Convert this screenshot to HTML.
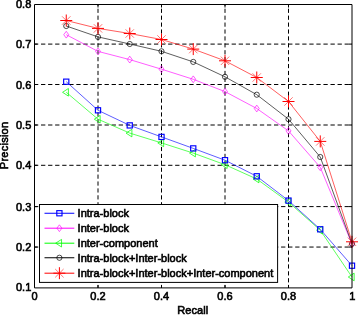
<!DOCTYPE html>
<html><head><meta charset="utf-8"><title>Precision-Recall</title>
<style>
html,body{margin:0;padding:0;background:#fff;}
svg{display:block}
text{font-family:"Liberation Sans",sans-serif;font-size:11px;fill:#000;stroke:#000;stroke-width:0.6px;}
</style></head><body>
<svg width="358" height="315" viewBox="0 0 358 315">
<defs><filter id="soft" filterUnits="userSpaceOnUse" x="0" y="0" width="358" height="315"><feGaussianBlur stdDeviation="0.3"/></filter></defs>
<rect width="358" height="315" fill="#fff"/>
<g filter="url(#soft)">
<g stroke="#000" stroke-width="1" stroke-dasharray="4.2 2.71" stroke-dashoffset="2.71" fill="none">
<path d="M98.00 4.5V287.9"/>
<path d="M161.50 4.5V287.9"/>
<path d="M225.00 4.5V287.9"/>
<path d="M288.50 4.5V287.9"/>
</g>
<g stroke="#000" stroke-width="1" stroke-dasharray="4.3 2.76" stroke-dashoffset="0.53" fill="none">
<path d="M34.5 44.10H352"/>
<path d="M34.5 84.50H352"/>
<path d="M34.5 125.00H352"/>
<path d="M34.5 165.30H352"/>
<path d="M34.5 206.60H352"/>
<path d="M34.5 247.05H352"/>
</g>
<polyline points="66.25,34.70 98.00,51.40 129.75,59.60 161.50,69.20 193.25,79.30 225.00,91.60 256.75,108.50 288.50,130.90 320.25,167.30 352.00,244.00" fill="none" stroke="#ff00ff" stroke-width="0.64"/>
<path d="M63.75 34.70L66.25 31.30L68.75 34.70L66.25 38.10Z" fill="none" stroke="#ff00ff" stroke-width="0.65"/>
<path d="M95.50 51.40L98.00 48.00L100.50 51.40L98.00 54.80Z" fill="none" stroke="#ff00ff" stroke-width="0.65"/>
<path d="M127.25 59.60L129.75 56.20L132.25 59.60L129.75 63.00Z" fill="none" stroke="#ff00ff" stroke-width="0.65"/>
<path d="M159.00 69.20L161.50 65.80L164.00 69.20L161.50 72.60Z" fill="none" stroke="#ff00ff" stroke-width="0.65"/>
<path d="M190.75 79.30L193.25 75.90L195.75 79.30L193.25 82.70Z" fill="none" stroke="#ff00ff" stroke-width="0.65"/>
<path d="M222.50 91.60L225.00 88.20L227.50 91.60L225.00 95.00Z" fill="none" stroke="#ff00ff" stroke-width="0.65"/>
<path d="M254.25 108.50L256.75 105.10L259.25 108.50L256.75 111.90Z" fill="none" stroke="#ff00ff" stroke-width="0.65"/>
<path d="M286.00 130.90L288.50 127.50L291.00 130.90L288.50 134.30Z" fill="none" stroke="#ff00ff" stroke-width="0.65"/>
<path d="M317.75 167.30L320.25 163.90L322.75 167.30L320.25 170.70Z" fill="none" stroke="#ff00ff" stroke-width="0.65"/>
<path d="M349.50 244.00L352.00 240.60L354.50 244.00L352.00 247.40Z" fill="none" stroke="#ff00ff" stroke-width="0.65"/>
<polyline points="66.25,92.30 98.00,119.20 129.75,133.10 161.50,142.90 193.25,153.10 225.00,164.70 256.75,179.00 288.50,202.10 320.25,230.20 352.00,277.00" fill="none" stroke="#00ff00" stroke-width="0.64"/>
<path d="M68.40 88.50L68.40 96.10L62.55 92.30Z" fill="none" stroke="#00ff00" stroke-width="0.75"/>
<path d="M100.15 115.40L100.15 123.00L94.30 119.20Z" fill="none" stroke="#00ff00" stroke-width="0.75"/>
<path d="M131.90 129.30L131.90 136.90L126.05 133.10Z" fill="none" stroke="#00ff00" stroke-width="0.75"/>
<path d="M163.65 139.10L163.65 146.70L157.80 142.90Z" fill="none" stroke="#00ff00" stroke-width="0.75"/>
<path d="M195.40 149.30L195.40 156.90L189.55 153.10Z" fill="none" stroke="#00ff00" stroke-width="0.75"/>
<path d="M227.15 160.90L227.15 168.50L221.30 164.70Z" fill="none" stroke="#00ff00" stroke-width="0.75"/>
<path d="M258.90 175.20L258.90 182.80L253.05 179.00Z" fill="none" stroke="#00ff00" stroke-width="0.75"/>
<path d="M290.65 198.30L290.65 205.90L284.80 202.10Z" fill="none" stroke="#00ff00" stroke-width="0.75"/>
<path d="M322.40 226.40L322.40 234.00L316.55 230.20Z" fill="none" stroke="#00ff00" stroke-width="0.75"/>
<path d="M354.15 273.20L354.15 280.80L348.30 277.00Z" fill="none" stroke="#00ff00" stroke-width="0.75"/>
<polyline points="66.25,81.70 98.00,110.30 129.75,125.40 161.50,136.90 193.25,148.40 225.00,160.20 256.75,176.30 288.50,200.60 320.25,229.30 352.00,265.70" fill="none" stroke="#0000ff" stroke-width="0.64"/>
<rect x="63.65" y="79.10" width="5.2" height="5.2" fill="none" stroke="#0000ff" stroke-width="1.15"/>
<rect x="95.40" y="107.70" width="5.2" height="5.2" fill="none" stroke="#0000ff" stroke-width="1.15"/>
<rect x="127.15" y="122.80" width="5.2" height="5.2" fill="none" stroke="#0000ff" stroke-width="1.15"/>
<rect x="158.90" y="134.30" width="5.2" height="5.2" fill="none" stroke="#0000ff" stroke-width="1.15"/>
<rect x="190.65" y="145.80" width="5.2" height="5.2" fill="none" stroke="#0000ff" stroke-width="1.15"/>
<rect x="222.40" y="157.60" width="5.2" height="5.2" fill="none" stroke="#0000ff" stroke-width="1.15"/>
<rect x="254.15" y="173.70" width="5.2" height="5.2" fill="none" stroke="#0000ff" stroke-width="1.15"/>
<rect x="285.90" y="198.00" width="5.2" height="5.2" fill="none" stroke="#0000ff" stroke-width="1.15"/>
<rect x="317.65" y="226.70" width="5.2" height="5.2" fill="none" stroke="#0000ff" stroke-width="1.15"/>
<rect x="349.40" y="263.10" width="5.2" height="5.2" fill="none" stroke="#0000ff" stroke-width="1.15"/>
<polyline points="66.25,26.00 98.00,36.90 129.75,44.00 161.50,51.30 193.25,61.90 225.00,76.80 256.75,94.70 288.50,119.20 320.25,157.00 352.00,243.80" fill="none" stroke="#000000" stroke-width="0.64"/>
<circle cx="66.25" cy="26.00" r="2.6" fill="none" stroke="#000000" stroke-width="0.7"/>
<circle cx="98.00" cy="36.90" r="2.6" fill="none" stroke="#000000" stroke-width="0.7"/>
<circle cx="129.75" cy="44.00" r="2.6" fill="none" stroke="#000000" stroke-width="0.7"/>
<circle cx="161.50" cy="51.30" r="2.6" fill="none" stroke="#000000" stroke-width="0.7"/>
<circle cx="193.25" cy="61.90" r="2.6" fill="none" stroke="#000000" stroke-width="0.7"/>
<circle cx="225.00" cy="76.80" r="2.6" fill="none" stroke="#000000" stroke-width="0.7"/>
<circle cx="256.75" cy="94.70" r="2.6" fill="none" stroke="#000000" stroke-width="0.7"/>
<circle cx="288.50" cy="119.20" r="2.6" fill="none" stroke="#000000" stroke-width="0.7"/>
<circle cx="320.25" cy="157.00" r="2.6" fill="none" stroke="#000000" stroke-width="0.7"/>
<circle cx="352.00" cy="243.80" r="2.6" fill="none" stroke="#000000" stroke-width="0.7"/>
<polyline points="66.25,20.50 98.00,28.40 129.75,33.50 161.50,39.50 193.25,49.10 225.00,60.80 256.75,77.50 288.50,101.50 320.25,141.40 352.00,241.80" fill="none" stroke="#ff0000" stroke-width="0.64"/>
<path d="M60.25 20.50H72.25M66.25 14.50V26.50" stroke="#ff0000" stroke-width="1" fill="none"/><path d="M62.05 16.30L70.45 24.70M62.05 24.70L70.45 16.30" stroke="#ff0000" stroke-width="0.55" fill="none"/>
<path d="M92.00 28.40H104.00M98.00 22.40V34.40" stroke="#ff0000" stroke-width="1" fill="none"/><path d="M93.80 24.20L102.20 32.60M93.80 32.60L102.20 24.20" stroke="#ff0000" stroke-width="0.55" fill="none"/>
<path d="M123.75 33.50H135.75M129.75 27.50V39.50" stroke="#ff0000" stroke-width="1" fill="none"/><path d="M125.55 29.30L133.95 37.70M125.55 37.70L133.95 29.30" stroke="#ff0000" stroke-width="0.55" fill="none"/>
<path d="M155.50 39.50H167.50M161.50 33.50V45.50" stroke="#ff0000" stroke-width="1" fill="none"/><path d="M157.30 35.30L165.70 43.70M157.30 43.70L165.70 35.30" stroke="#ff0000" stroke-width="0.55" fill="none"/>
<path d="M187.25 49.10H199.25M193.25 43.10V55.10" stroke="#ff0000" stroke-width="1" fill="none"/><path d="M189.05 44.90L197.45 53.30M189.05 53.30L197.45 44.90" stroke="#ff0000" stroke-width="0.55" fill="none"/>
<path d="M219.00 60.80H231.00M225.00 54.80V66.80" stroke="#ff0000" stroke-width="1" fill="none"/><path d="M220.80 56.60L229.20 65.00M220.80 65.00L229.20 56.60" stroke="#ff0000" stroke-width="0.55" fill="none"/>
<path d="M250.75 77.50H262.75M256.75 71.50V83.50" stroke="#ff0000" stroke-width="1" fill="none"/><path d="M252.55 73.30L260.95 81.70M252.55 81.70L260.95 73.30" stroke="#ff0000" stroke-width="0.55" fill="none"/>
<path d="M282.50 101.50H294.50M288.50 95.50V107.50" stroke="#ff0000" stroke-width="1" fill="none"/><path d="M284.30 97.30L292.70 105.70M284.30 105.70L292.70 97.30" stroke="#ff0000" stroke-width="0.55" fill="none"/>
<path d="M314.25 141.40H326.25M320.25 135.40V147.40" stroke="#ff0000" stroke-width="1" fill="none"/><path d="M316.05 137.20L324.45 145.60M316.05 145.60L324.45 137.20" stroke="#ff0000" stroke-width="0.55" fill="none"/>
<path d="M346.00 241.80H358.00M352.00 235.80V247.80" stroke="#ff0000" stroke-width="1" fill="none"/><path d="M347.80 237.60L356.20 246.00M347.80 246.00L356.20 237.60" stroke="#ff0000" stroke-width="0.55" fill="none"/>
</g>
<path d="M34.5 4.5H352V287.9H34.5Z" fill="none" stroke="#000" stroke-width="1"/>
<path d="M98.00 287.9v-3M98.00 4.5v3M161.50 287.9v-3M161.50 4.5v3M225.00 287.9v-3M225.00 4.5v3M288.50 287.9v-3M288.50 4.5v3M34.5 44.10h3M352 44.10h-3M34.5 84.50h3M352 84.50h-3M34.5 125.00h3M352 125.00h-3M34.5 165.30h3M352 165.30h-3M34.5 206.60h3M352 206.60h-3M34.5 247.05h3M352 247.05h-3" stroke="#000" stroke-width="1" fill="none"/>
<g filter="url(#soft)">
<text x="31.3" y="7.80" text-anchor="end">0.8</text>
<text x="31.3" y="48.10" text-anchor="end">0.7</text>
<text x="31.3" y="88.50" text-anchor="end">0.6</text>
<text x="31.3" y="129.00" text-anchor="end">0.5</text>
<text x="31.3" y="169.30" text-anchor="end">0.4</text>
<text x="31.3" y="210.60" text-anchor="end">0.3</text>
<text x="31.3" y="251.05" text-anchor="end">0.2</text>
<text x="31.3" y="291.20" text-anchor="end">0.1</text>
<text x="34.50" y="300.3" text-anchor="middle">0</text>
<text x="98.00" y="300.3" text-anchor="middle">0.2</text>
<text x="161.50" y="300.3" text-anchor="middle">0.4</text>
<text x="225.00" y="300.3" text-anchor="middle">0.6</text>
<text x="288.50" y="300.3" text-anchor="middle">0.8</text>
<text x="352.20" y="300.25" text-anchor="middle">1</text>
<text x="192.8" y="314.4" text-anchor="middle" style="letter-spacing:0.12px">Recall</text>
<text transform="translate(8 145.4) rotate(-90)" text-anchor="middle" style="letter-spacing:0.25px">Precision</text>
</g>
<rect x="39.5" y="204.5" width="238.1" height="77.9" fill="#fff" stroke="#000" stroke-width="1"/>
<g filter="url(#soft)">
<path d="M44.5 213.25H74.3" stroke="#0000ff" stroke-width="1" fill="none"/>
<rect x="56.80" y="210.65" width="5.2" height="5.2" fill="none" stroke="#0000ff" stroke-width="1.15"/>
<text x="77.6" y="217.05">Intra-block</text>
<path d="M44.5 228.20H74.3" stroke="#ff00ff" stroke-width="1" fill="none"/>
<path d="M56.90 228.20L59.40 224.80L61.90 228.20L59.40 231.60Z" fill="none" stroke="#ff00ff" stroke-width="0.65"/>
<text x="77.6" y="232.00">Inter-block</text>
<path d="M44.5 243.20H74.3" stroke="#00ff00" stroke-width="1" fill="none"/>
<path d="M61.55 239.40L61.55 247.00L55.70 243.20Z" fill="none" stroke="#00ff00" stroke-width="0.75"/>
<text x="77.6" y="247.00">Inter-component</text>
<path d="M44.5 257.75H74.3" stroke="#000000" stroke-width="1" fill="none"/>
<circle cx="59.40" cy="257.75" r="2.6" fill="none" stroke="#000000" stroke-width="0.7"/>
<text x="77.6" y="261.55">Intra-block+Inter-block</text>
<path d="M44.5 273.20H74.3" stroke="#ff0000" stroke-width="1" fill="none"/>
<path d="M53.40 273.20H65.40M59.40 267.20V279.20" stroke="#ff0000" stroke-width="1" fill="none"/><path d="M55.20 269.00L63.60 277.40M55.20 277.40L63.60 269.00" stroke="#ff0000" stroke-width="0.55" fill="none"/>
<text x="77.6" y="277.00">Intra-block+Inter-block+Inter-component</text>
</g>
</svg></body></html>
